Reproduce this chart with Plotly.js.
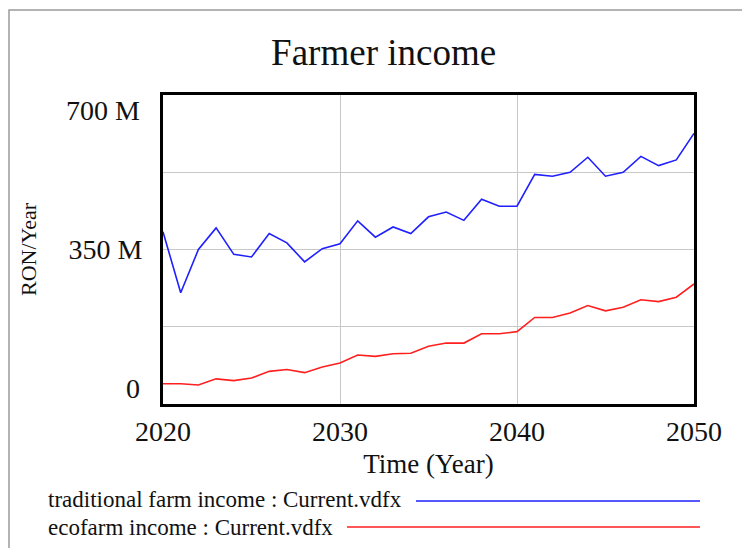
<!DOCTYPE html>
<html>
<head>
<meta charset="utf-8">
<script src="https://cdn.plot.ly/plotly-3.0.1.min.js"></script>
<style>html,body{margin:0;padding:0;background:#fff;}#chart{width:742px;height:548px;}</style>
</head>
<body>
<div id="chart"></div>
<script>
const years = [2020,2021,2022,2023,2024,2025,2026,2027,2028,2029,2030,2031,2032,2033,2034,2035,2036,2037,2038,2039,2040,2041,2042,2043,2044,2045,2046,2047,2048,2049,2050];
const traditionalIncomeM = [390,252,350,399,339,333,386,365,322,352,363,415,378,401,386,424,435,416,464,448,448,520,516,525,559,516,525,561,540,553,613];
const ecofarmIncomeM = [46,46,43,57,53,59,74,78,71,84,93,111,108,114,115,131,138,138,159,159,164,196,196,206,223,211,219,236,232,242,272];
const seriesNames = ["traditional farm income : Current.vdfx", "ecofarm income : Current.vdfx"];
const xTicks = [2020,2030,2040,2050];
const yGrid = [0,175e6,350e6,525e6,700e6];
const yTickText = ['0', '', '350 M', '', '700 M'];

const W = 742, H = 548;
const L = 163, R = 694, T = 95, B = 404;
const px = v => (v - L) / (R - L);
const py = v => (B - v) / (B - T);
const serif = "Liberation Serif, Times New Roman, serif";
const ink = '#111';

const toUnits = arr => arr.map(v => v * 1e6);

const data = [
  {x: years, y: toUnits(traditionalIncomeM), type: 'scatter', mode: 'lines', name: seriesNames[0],
   line: {color: '#1f1fff', width: 1.6}},
  {x: years, y: toUnits(ecofarmIncomeM), type: 'scatter', mode: 'lines', name: seriesNames[1],
   line: {color: '#ff1f1f', width: 1.6}}
];

// Middle tick label is drawn by the axis; the end labels sit inward of the ends, as in the original
const endLabels = [
  {text: yTickText[0], y: py(388)},
  {text: yTickText[4], y: py(110)}
].map(d => ({text: d.text, xref: 'paper', yref: 'paper', x: px(142), y: d.y, xanchor: 'right', yanchor: 'middle',
             showarrow: false, font: {family: serif, size: 28, color: ink}}));

const layout = {
  width: W, height: H,
  margin: {l: L, r: W - R, t: T, b: H - B, pad: 0},
  paper_bgcolor: '#fff', plot_bgcolor: '#fff',
  showlegend: false,
  font: {family: serif, color: ink},
  title: {text: 'Farmer income', font: {family: serif, size: 37, color: ink},
          x: 0.517, xanchor: 'center', y: 0.905, yanchor: 'middle'},
  xaxis: {range: [2020, 2050], tickvals: xTicks, ticktext: xTicks.map(String),
          tickfont: {family: serif, size: 28, color: ink}, ticks: '',
          showgrid: true, gridcolor: '#c8c8c8', gridwidth: 1,
          showline: true, linecolor: '#000', linewidth: 3, mirror: true, zeroline: false,
          title: {text: 'Time (Year)', font: {family: serif, size: 27, color: ink}, standoff: 9}},
  yaxis: {range: [0, 700e6], tickvals: yGrid, ticktext: ['', '', yTickText[2], '', ''],
          tickfont: {family: serif, size: 28, color: ink}, ticks: '',
          showgrid: true, gridcolor: '#c8c8c8', gridwidth: 1,
          showline: true, linecolor: '#000', linewidth: 3, mirror: true, zeroline: false,
          ticklabelstandoff: 12,
          title: {text: 'RON/Year', font: {family: serif, size: 22, color: ink}, standoff: 26}},
  shapes: [
    {type: 'rect', xref: 'paper', yref: 'paper', x0: px(9), x1: px(760), y0: py(560), y1: py(10),
     line: {color: '#9a9a9a', width: 1.5}, layer: 'below'},
    {type: 'line', xref: 'paper', yref: 'paper', x0: px(416), x1: px(700), y0: py(501), y1: py(501),
     line: {color: '#1f1fff', width: 1.6}},
    {type: 'line', xref: 'paper', yref: 'paper', x0: px(347), x1: px(700), y0: py(527), y1: py(527),
     line: {color: '#ff1f1f', width: 1.6}}
  ],
  annotations: endLabels.concat([
    {text: seriesNames[0], xref: 'paper', yref: 'paper', x: px(46), y: py(500), xanchor: 'left', yanchor: 'middle',
     showarrow: false, font: {family: serif, size: 23, color: ink}},
    {text: seriesNames[1], xref: 'paper', yref: 'paper', x: px(46), y: py(527), xanchor: 'left', yanchor: 'middle',
     showarrow: false, font: {family: serif, size: 23, color: ink}}
  ])
};

Plotly.newPlot('chart', data, layout, {displayModeBar: false, staticPlot: true});
</script>
</body>
</html>
